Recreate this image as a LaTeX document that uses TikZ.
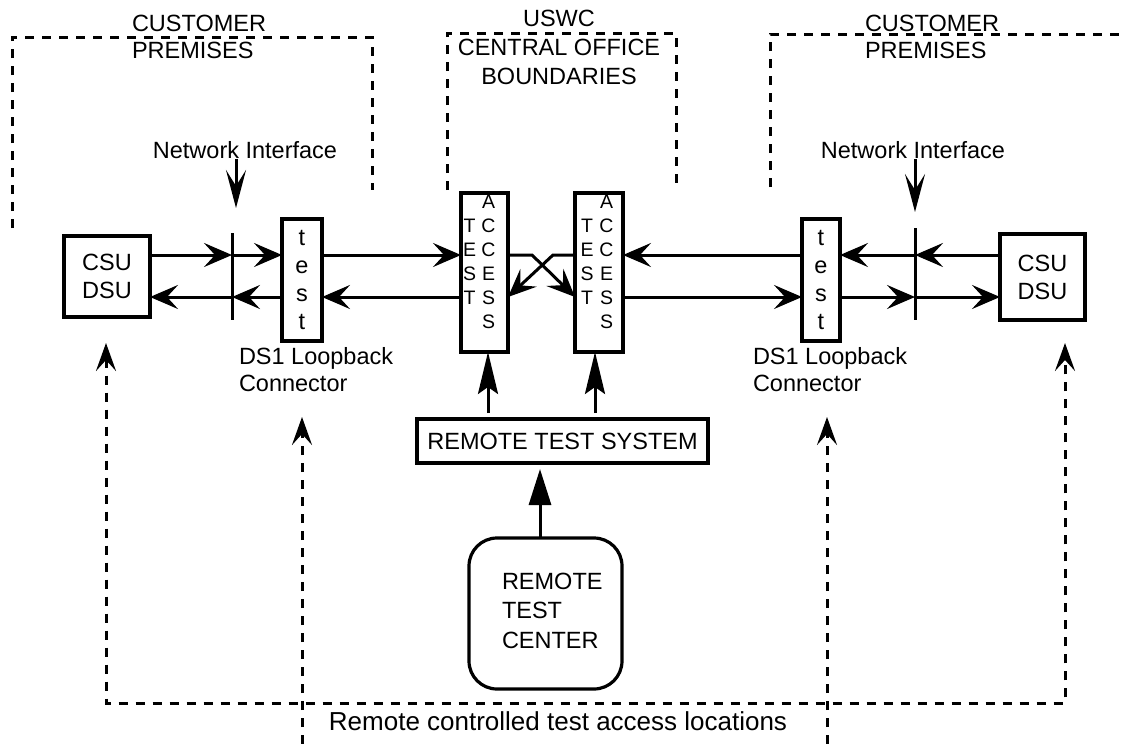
\documentclass[tikz,border=0pt]{standalone}
\usepackage{fontspec}
\setmainfont{Liberation Sans}
\usetikzlibrary{arrows.meta}

\tikzset{
  txt/.style={font=\fontsize{23.5}{27}\selectfont, inner sep=0pt, outer sep=0pt},
  unit/.style={draw, line width=3.2pt, inner sep=0pt, outer sep=0pt,
               font=\fontsize{23.5}{28}\selectfont, align=center},
  tacol/.style={font=\fontsize{19.5}{24}\selectfont, align=center, inner sep=0pt},
  sig/.style={line width=3pt, -{Stealth[length=28pt,width=24pt,inset=11pt]}},
  bar/.style={line width=3pt},
  niarrow/.style={line width=3pt, -{Stealth[length=38pt,width=20pt,inset=16pt]}},
  feed/.style={line width=3pt, -{Stealth[length=42pt,width=20pt,inset=7pt]}},
  bigfeed/.style={line width=3pt, -{Triangle[length=36pt,width=22pt]}},
  boundary/.style={line width=3pt, dash pattern=on 9pt off 8pt},
  ctrl/.style={line width=3pt, dash pattern=on 9pt off 8pt},
}

\begin{document}
\begin{tikzpicture}[x=1pt,y=-1pt]
\useasboundingbox (0,0) rectangle (1125,744);

% boundary outlines
\draw[boundary] (12,228) -- (12,37) -- (372,37) -- (372,190);
\draw[boundary] (447,190) -- (447,33) -- (676,33) -- (676,185);
\draw[boundary] (770,187) -- (770,34) -- (1125,34);

% boundary captions
\node[txt, align=left, anchor=west] (cpL) at (132,36.5) {CUSTOMER\\PREMISES};
\node[txt, align=left, anchor=west] (cpR) at (865,36.5) {CUSTOMER\\PREMISES};
\node[txt, align=center, font=\fontsize{23.5}{29}\selectfont] (co) at (559,47)
  {USWC\\CENTRAL OFFICE\\BOUNDARIES};

% equipment
\node[unit, minimum width=86pt, minimum height=81pt] (csuL) at (107,276.5) {CSU\\DSU};
\node[unit, minimum width=85pt, minimum height=86pt] (csuR) at (1042.5,277) {CSU\\DSU};
\node[unit, minimum width=40pt, minimum height=122pt] (testL) at (302,280) {t\\e\\s\\t};
\node[unit, minimum width=38pt, minimum height=122pt] (testR) at (821,280) {t\\e\\s\\t};
\node[unit, minimum width=47pt, minimum height=159pt] (ta1) at (484.5,272.5) {};
\node[unit, minimum width=48pt, minimum height=159pt] (ta2) at (599,272.5) {};
\node[tacol] (ta1t) at (469.5,262) {T\\E\\S\\T};
\node[tacol] (ta1a) at (488.5,262) {A\\C\\C\\E\\S\\S};
\node[tacol] (ta2t) at (587,262) {T\\E\\S\\T};
\node[tacol] (ta2a) at (606.5,262) {A\\C\\C\\E\\S\\S};
\node[unit, minimum width=291pt, minimum height=44pt] (rts) at (562.5,441) {REMOTE TEST SYSTEM};
\node[unit, rounded corners=28pt, minimum width=153pt, minimum height=151pt] (rtc) at (545.5,613.5) {};
\node[txt, align=left, anchor=west, font=\fontsize{23.5}{29.5}\selectfont] (rtcl) at (502,610.5)
  {REMOTE\\TEST\\CENTER};

% labels
\node[txt] (niLl) at (245,150) {Network Interface};
\node[txt] (niRl) at (913,150) {Network Interface};
\node[txt, align=left, anchor=west] (dsL) at (239,370) {DS1 Loopback\\Connector};
\node[txt, align=left, anchor=west] (dsR) at (753,370) {DS1 Loopback\\Connector};
\node[txt, font=\fontsize{26}{30}\selectfont] (rc) at (558,721) {Remote controlled test access locations};

% signal levels and network interface points
\coordinate (yT) at (0,255);
\coordinate (yB) at (0,297);
\coordinate (niL1) at (232,255);
\coordinate (niL2) at (232,297);
\coordinate (niR1) at (915,255);
\coordinate (niR2) at (915,297);
\coordinate (niLtop) at (232,233);
\coordinate (niLbot) at (232,320);
\coordinate (niRtop) at (915,228);
\coordinate (niRbot) at (915,320);
\coordinate (niLtip) at (236,208);
\coordinate (niRtip) at (915,212);

% network interface demarcation
\draw[bar] (niLtop) -- (niLbot);
\draw[bar] (niRtop) -- (niRbot);
\draw[niarrow] (niLl.south -| niLtip) -- (niLtip);
\draw[niarrow] (niRl.south -| niRtip) -- (niRtip);

% left side circuit
\draw[sig] (csuL.east |- yT) -- (niL1);
\draw[sig] (niL1) -- (testL.west |- yT);
\draw[sig] (testL.east |- yT) -- (ta1.west |- yT);
\draw[sig] (ta1.west |- yB) -- (testL.east |- yB);
\draw[sig] (testL.west |- yB) -- (niL2);
\draw[sig] (niL2) -- (csuL.east |- yB);

% cross-connect between test access points
\draw[sig] (ta1.east |- yT) -- ++(24,0) -- (ta2.west |- yB);
\draw[sig] (ta2.west |- yT) -- ++(-22,0) -- (ta1.east |- yB);

% right side circuit
\draw[sig] (csuR.west |- yT) -- (niR1);
\draw[sig] (niR1) -- (testR.east |- yT);
\draw[sig] (testR.west |- yT) -- (ta2.east |- yT);
\draw[sig] (ta2.east |- yB) -- (testR.west |- yB);
\draw[sig] (testR.east |- yB) -- (niR2);
\draw[sig] (niR2) -- (csuR.west |- yB);

% remote test control
\coordinate (f1) at (488,0);
\coordinate (f2) at (595,0);
\coordinate (f3) at (540,0);
\draw[feed, shorten <=6pt] (rts.north -| f1) -- (ta1.south -| f1);
\draw[feed, shorten <=6pt] (rts.north -| f2) -- (ta2.south -| f2);
\draw[bigfeed, shorten >=6pt] (rtc.north -| f3) -- (rts.south -| f3);

% remotely controlled access locations
\coordinate (tipL) at (106,343);
\coordinate (tipR) at (1065,343);
\coordinate (cL) at (106,703);
\coordinate (cR) at (1065,703);
\coordinate (lbL) at (302,744);
\coordinate (lbLtip) at (302,417);
\coordinate (lbR) at (827,744);
\coordinate (lbRtip) at (827,417);
\draw[ctrl, {Stealth[length=28pt,width=20pt,inset=11pt]}-{Stealth[length=28pt,width=20pt,inset=11pt]}]
  (tipL) -- (cL) -- (cR) -- (tipR);
\draw[ctrl, -{Stealth[length=28pt,width=20pt,inset=11pt]}] (lbL) -- (lbLtip);
\draw[ctrl, -{Stealth[length=28pt,width=20pt,inset=11pt]}] (lbR) -- (lbRtip);
\end{tikzpicture}
\end{document}
